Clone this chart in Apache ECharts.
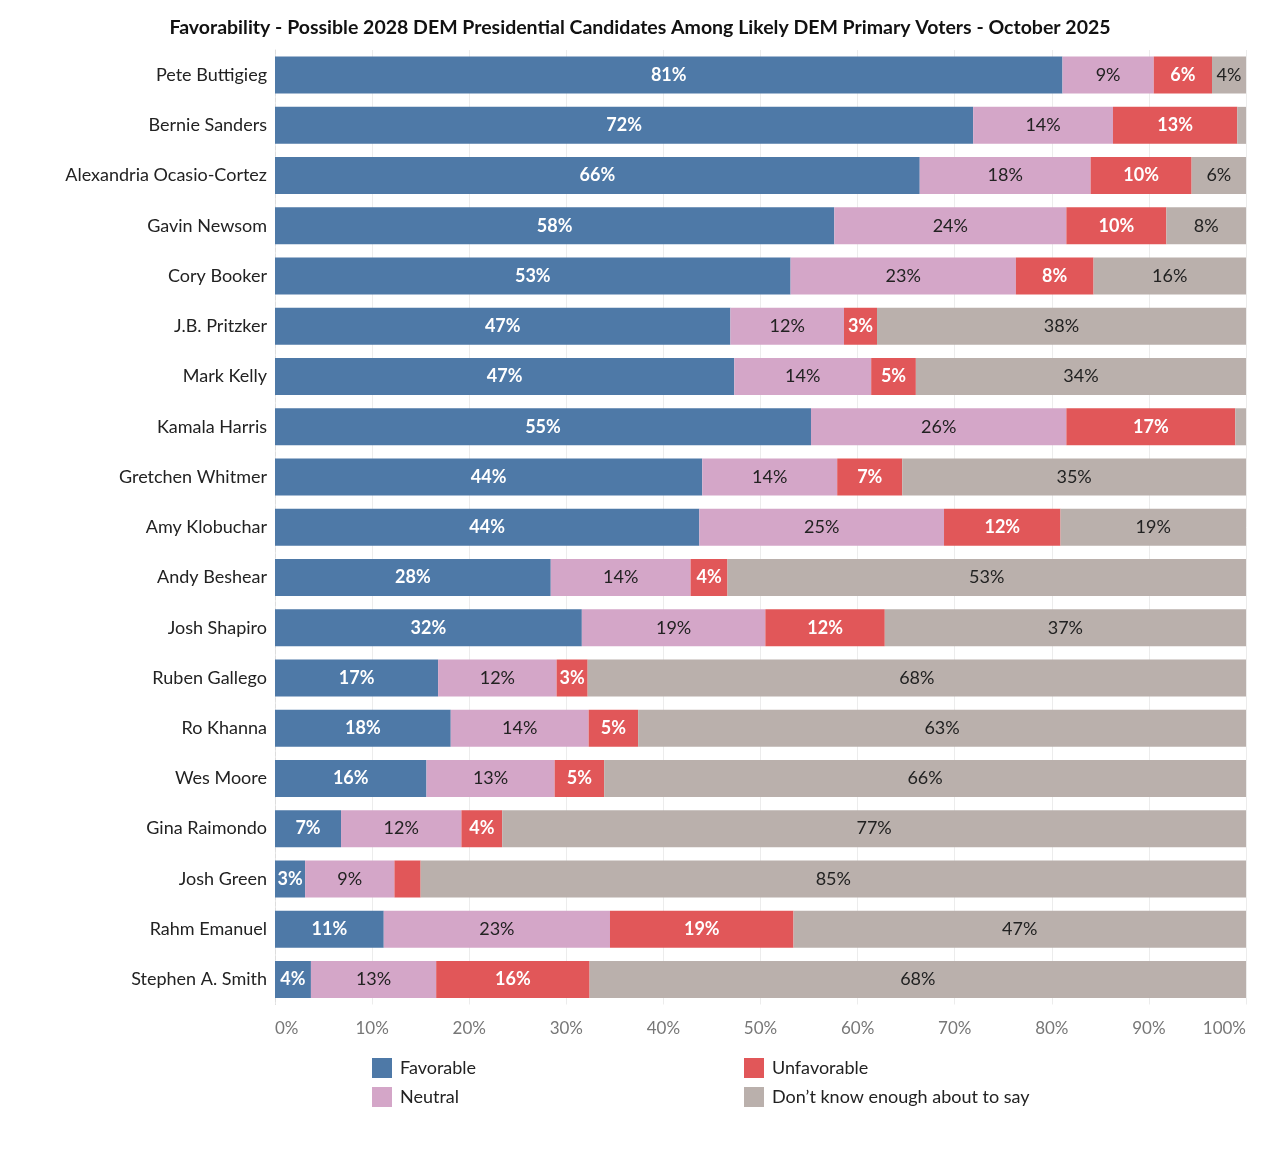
<!DOCTYPE html>
<html>
<head>
<meta charset="utf-8">
<script src="https://cdn.jsdelivr.net/npm/echarts@6/dist/echarts.min.js"></script>
<style>
  html, body { margin: 0; padding: 0; background: #fff; }
  #main { width: 1280px; height: 1153px; }
</style>
</head>
<body>
<div id="main"></div>
<script>
// 候选人（从上到下）
var candidates = [
  'Pete Buttigieg', 'Bernie Sanders', 'Alexandria Ocasio-Cortez', 'Gavin Newsom',
  'Cory Booker', 'J.B. Pritzker', 'Mark Kelly', 'Kamala Harris', 'Gretchen Whitmer',
  'Amy Klobuchar', 'Andy Beshear', 'Josh Shapiro', 'Ruben Gallego', 'Ro Khanna',
  'Wes Moore', 'Gina Raimondo', 'Josh Green', 'Rahm Emanuel', 'Stephen A. Smith'
]
// 各项占比（%），按柱宽估读
var favorable = [81.1, 71.9, 66.4, 57.6, 53.1, 46.9, 47.3, 55.2, 44.0, 43.7, 28.4, 31.6, 16.8, 18.1, 15.6, 6.8, 3.1, 11.2, 3.7]
var neutral = [9.4, 14.4, 17.6, 23.9, 23.2, 11.7, 14.1, 26.3, 13.9, 25.2, 14.4, 18.9, 12.2, 14.2, 13.2, 12.4, 9.2, 23.3, 12.9]
var unfavorable = [6.0, 12.8, 10.4, 10.3, 8.0, 3.4, 4.6, 17.4, 6.7, 12.0, 3.8, 12.3, 3.2, 5.1, 5.1, 4.2, 2.7, 18.9, 15.8]
var dontKnow = [3.5, 0.9, 5.6, 8.2, 15.7, 38.0, 34.0, 1.1, 35.4, 19.1, 53.4, 37.2, 67.8, 62.6, 66.1, 76.6, 85.0, 46.6, 67.6]
var xTicks = ['0%', '10%', '20%', '30%', '40%', '50%', '60%', '70%', '80%', '90%', '100%']

var colors = ['#4e79a7', '#d4a6c8', '#e15759', '#bab0ac']
var fontFamily = 'Lato, "Noto Sans", sans-serif'

function segLabel(white) {
  return {
    show: true,
    position: 'inside',
    fontFamily: fontFamily,
    fontSize: 18,
    fontWeight: white ? 'bold' : 'normal',
    color: white ? '#fff' : '#222',
    formatter: function (p) {
      return p.value < 3 ? '' : Math.round(p.value) + '%'
    },
  }
}

function makeSeries(name, data, color, white) {
  return {
    name: name,
    type: 'bar',
    stack: 'total',
    data: data,
    barWidth: 37,
    itemStyle: { color: color },
    label: segLabel(white),
    emphasis: { disabled: true },
  }
}

var legendText = { fontFamily: fontFamily, fontSize: 18, color: '#222', padding: [0, 0, 0, 3] }

var myChart = echarts.init(document.getElementById('main'))
var option = {
  animation: false,
  title: {
    text: 'Favorability - Possible 2028 DEM Presidential Candidates Among Likely DEM Primary Voters - October 2025',
    left: 'center',
    top: 13,
    textStyle: { fontFamily: fontFamily, fontSize: 19.5, fontWeight: 'bold', color: '#111' },
  },
  legend: [
    {
      data: ['Favorable', 'Neutral'],
      orient: 'vertical',
      left: 367,
      top: 1053,
      itemWidth: 20,
      itemHeight: 20,
      itemGap: 9,
      icon: 'rect',
      textStyle: legendText,
    },
    {
      data: ['Unfavorable', 'Don\u2019t know enough about to say'],
      orient: 'vertical',
      left: 739,
      top: 1053,
      itemWidth: 20,
      itemHeight: 20,
      itemGap: 9,
      icon: 'rect',
      textStyle: legendText,
    },
  ],
  grid: { left: 275, right: 34, top: 50, bottom: 148.5, containLabel: false },
  xAxis: {
    type: 'value',
    min: 0,
    max: 100,
    interval: 10,
    axisLine: { show: false },
    axisTick: { show: false },
    splitLine: { show: true, lineStyle: { color: '#ececec' } },
    axisLabel: {
      margin: 16,
      fontFamily: fontFamily,
      fontSize: 17,
      color: '#777',
      alignMinLabel: 'left',
      alignMaxLabel: 'right',
      formatter: function (v) {
        return xTicks[Math.round(v / 10)]
      },
    },
  },
  yAxis: {
    type: 'category',
    data: candidates,
    inverse: true,
    axisLine: { show: true, lineStyle: { color: '#ddd', type: 'dashed' } },
    axisTick: { show: false },
    axisLabel: { margin: 8, fontFamily: fontFamily, fontSize: 18, color: '#222' },
  },
  series: [
    makeSeries('Favorable', favorable, colors[0], true),
    makeSeries('Neutral', neutral, colors[1], false),
    makeSeries('Unfavorable', unfavorable, colors[2], true),
    makeSeries('Don\u2019t know enough about to say', dontKnow, colors[3], false),
  ],
}
myChart.setOption(option)
</script>
</body>
</html>
